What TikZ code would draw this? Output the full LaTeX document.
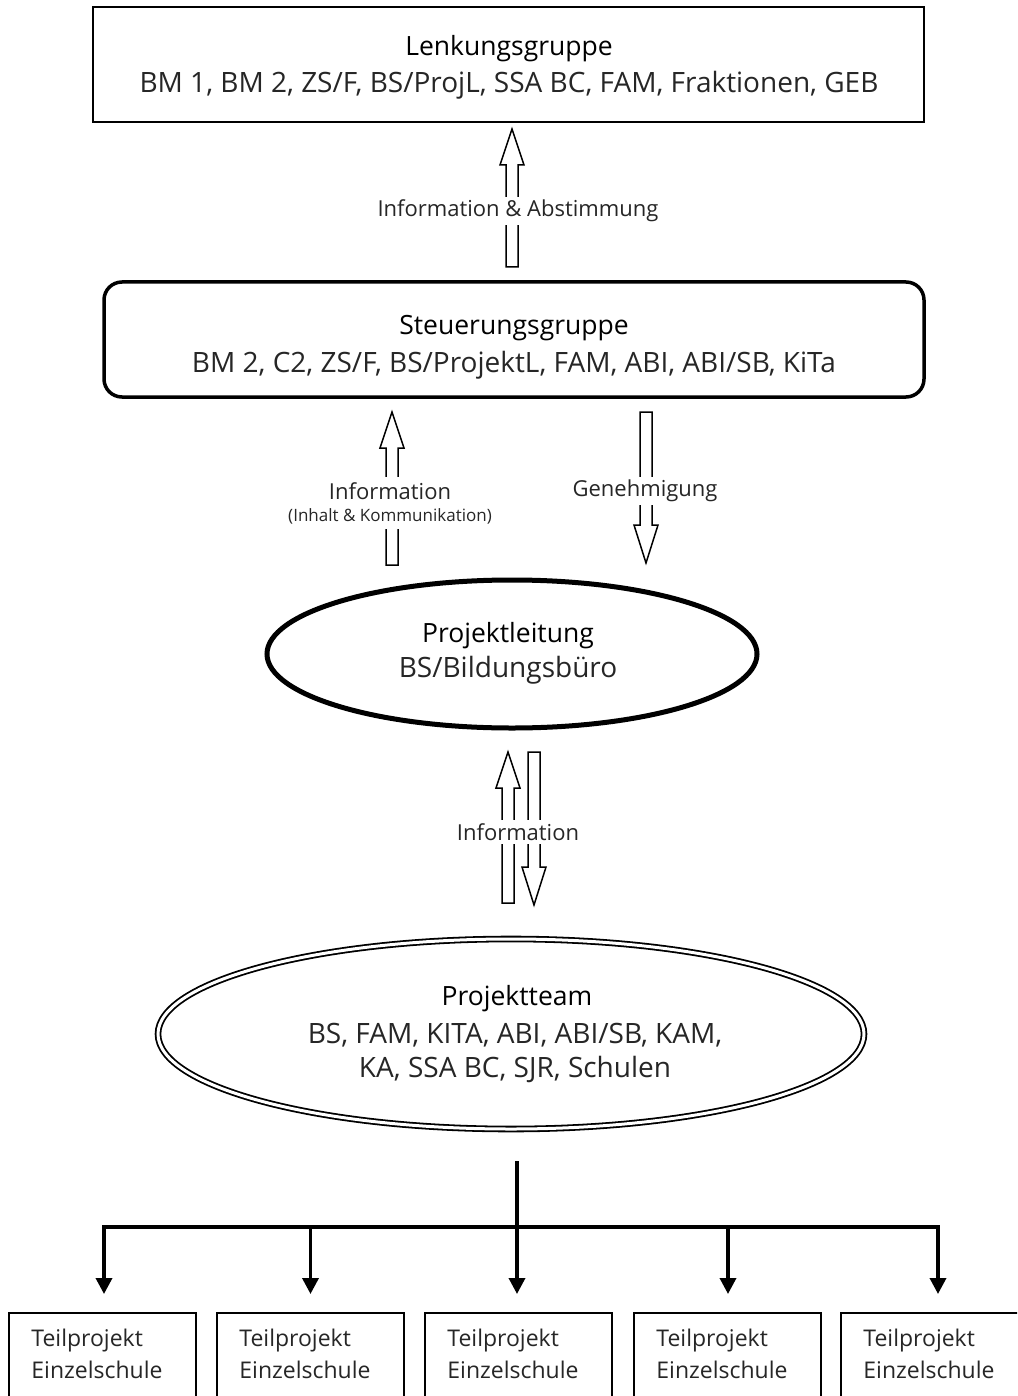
\documentclass[tikz,border=0pt]{standalone}
\usepackage{fontspec}
\setmainfont{Open Sans}
\usetikzlibrary{arrows.meta,shapes.geometric,calc}
\tikzset{
  harrow/.style={draw=black,line width=1.5pt,fill=white,line join=miter},
  alabel/.style={fill=white,inner xsep=2pt,inner ysep=3pt,font=\fontsize{22}{28}\selectfont,text=black!85,align=center},
  titletext/.style={font=\fontsize{26.5}{30}\selectfont,text=black,inner sep=0pt},
  bodytext/.style={font=\fontsize{28}{36}\selectfont,text=black!85,align=center,inner sep=0pt},
  tbox/.style={draw=black,line width=1.6pt,minimum width=187pt,minimum height=130pt,anchor=north},
  ttext/.style={anchor=west,align=left,font=\fontsize{23}{32}\selectfont,text=black!85,inner sep=0pt},
  tree/.style={line width=3.5pt},
  treearrow/.style={line width=3.5pt,-{Triangle[width=16pt,length=16pt]},shorten >=18pt}
}
\newcommand\harrowup[3]{\draw[harrow] (#1-6,#2) -- (#1-6,#3+36) -- (#1-12,#3+36) -- (#1,#3) -- (#1+12,#3+36) -- (#1+6,#3+36) -- (#1+6,#2) -- cycle;}
\newcommand\harrowdown[3]{\draw[harrow] (#1-6,#2) -- (#1-6,#3-38) -- (#1-12,#3-38) -- (#1,#3) -- (#1+12,#3-38) -- (#1+6,#3-38) -- (#1+6,#2) -- cycle;}
\begin{document}
\begin{tikzpicture}[x=1pt,y=-1pt]
\useasboundingbox (0,0) rectangle (1017,1396);
\clip (0,0) rectangle (1017,1396);
\fill[white] (0,0) rectangle (1017,1396);

% Lenkungsgruppe
\node[draw=black,line width=2pt,minimum width=831pt,minimum height=115pt] (lenk) at (508.5,64.5) {};
\node[titletext] (lenkt) at (509,49) {Lenkungsgruppe};
\node[bodytext] (lenkb) at (509,85) {BM 1, BM 2, ZS/F, BS/ProjL, SSA BC, FAM, Fraktionen, GEB};

% Steuerungsgruppe
\node[draw=black,line width=3.5pt,rounded corners=18pt,minimum width=820pt,minimum height=115pt] (steuer) at (514,339.5) {};
\node[titletext] (steuert) at (514,328) {Steuerungsgruppe};
\node[bodytext] (steuerb) at (514,365) {BM 2, C2, ZS/F, BS/ProjektL, FAM, ABI, ABI/SB, KiTa};

% Projektleitung
\node[draw=black,line width=5pt,ellipse,minimum width=490pt,minimum height=148pt] (pl) at (512,654) {};
\node[titletext] (plt) at (508,636) {Projektleitung};
\node[bodytext] (plb) at (508,670) {BS/Bildungsbüro};

% Projektteam
\node[draw=black,line width=1.8pt,double,double distance=3pt,ellipse,minimum width=706pt,minimum height=190pt] (pt) at (511,1034) {};
\node[titletext] (ptt) at (517,999) {Projektteam};
\node[bodytext,font=\fontsize{28}{34}\selectfont] (ptb) at (515,1053) {BS, FAM, KITA, ABI, ABI/SB, KAM,\\KA, SSA BC, SJR, Schulen};

% hollow arrows
\harrowup{512}{267}{129}
\node[alabel] (l1) at (518,211) {Information \& Abstimmung};

\harrowup{392}{565}{412}
\node[alabel,inner ysep=5pt] (l2) at (390,503) {Information\\[-6pt]{\fontsize{17}{20}\selectfont (Inhalt \& Kommunikation)}};

\harrowdown{646}{412}{563}
\node[alabel] (l3) at (645,491) {Genehmigung};

\harrowup{508}{903}{752}
\harrowdown{534}{752}{905}
\node[alabel] (l4) at (518,832) {Information};

% tree
\coordinate (treetop) at (517,1161);
\coordinate (treemid) at (517,1227);
\coordinate (hl) at (104,1227);
\coordinate (hr) at (938,1227);
\draw[tree] (treetop) -- (treemid);
\draw[tree,line cap=rect] (hl) -- (hr);

\node[tbox] (b1) at (102.5,1312) {};
\node[tbox] (b2) at (310.5,1312) {};
\node[tbox] (b3) at (518.5,1312) {};
\node[tbox] (b4) at (727.5,1312) {};
\node[tbox] (b5) at (934.5,1312) {};

\foreach \b in {b1,b2,b3,b4,b5}{
  \node[ttext] at ($(\b.north west)+(23,42)$) {Teilprojekt\\Einzelschule};
}

\draw[treearrow] (hl) -- (hl |- b1.north);
\draw[treearrow] (b2.north |- hl) -- (b2.north);
\draw[treearrow] (treemid) -- (treemid |- b3.north);
\draw[treearrow] (728,1227) -- (728,1312);
\draw[treearrow] (hr) -- (hr |- b5.north);
\end{tikzpicture}
\end{document}
